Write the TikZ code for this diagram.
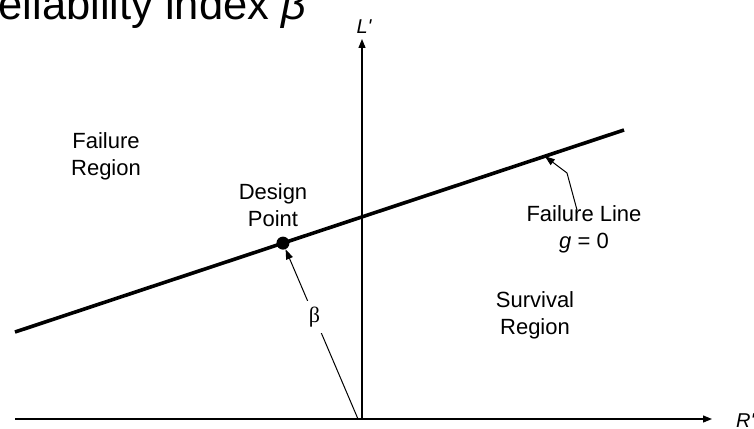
\documentclass[tikz,border=0pt]{standalone}
\usepackage{fontspec}
\setmainfont{Liberation Sans}
\newfontfamily\symbfont{Liberation Serif}
\usetikzlibrary{arrows.meta,calc}

\begin{document}
\begin{tikzpicture}[x=1pt, y=-1pt,
  axis/.style={line width=1.2pt, -{Triangle[length=9pt,width=7pt]}},
  ptr/.style={line width=1pt, -{Triangle[length=10pt,width=7pt]}},
  lbl/.style={align=center, inner sep=0pt, font=\fontsize{22}{27}\selectfont},
  axlbl/.style={inner sep=0pt, font=\fontsize{20}{22}\selectfont\itshape}]
\useasboundingbox (0,0) rectangle (754,428);
\node[anchor=base west, inner sep=0pt, font=\fontsize{43.5}{50}\selectfont] (title) at (-33,20) {Reliability index \textit{β}};
\coordinate (O) at (362,419);
\coordinate (xstart) at (15,419);
\coordinate (xend) at (712,419);
\coordinate (yend) at (362,39);
\draw[axis] (xstart) -- (xend);
\draw[axis] (O) -- (yend);
\node[axlbl, anchor=west] (rlbl) at (736,421) {R\textquotesingle};
\node[axlbl] (llbl) at (364,27) {L\textquotesingle};
\coordinate (fl1) at (15,332);
\coordinate (fl2) at (624,130);
\draw[line width=3.6pt] (fl1) -- coordinate[pos=0.87] (fltip) (fl2);
\node[circle, fill, inner sep=0pt, minimum size=13pt] (dp) at ($(fl1)!0.44!(fl2)$) {};
\node[lbl] (fregion) at (106,156) {Failure\\Region};
\node[lbl] (dpoint) at (273,205) {Design\\Point};
\node[lbl] (sregion) at (535,315) {Survival\\Region};
\node[lbl] (fline) at (584,229) {Failure Line\\\textit{g} = 0};
\coordinate (bfoot) at (358,419);
\draw[ptr] (bfoot) -- node[pos=0.6, fill=white, inner sep=6pt, font=\symbfont\fontsize{22}{24}\selectfont] (betalbl) {β} (dp);
\coordinate (fltail) at (577,210);
\coordinate (flbend) at (567,173);
\draw[ptr] (fltail) -- (flbend) -- (fltip);
\end{tikzpicture}
\end{document}
